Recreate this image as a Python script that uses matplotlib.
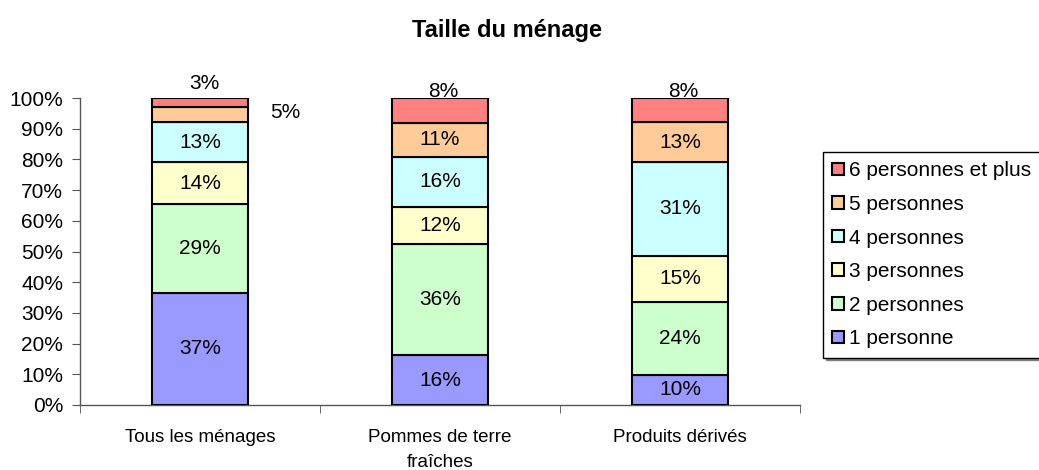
import matplotlib
matplotlib.use("Agg")
import matplotlib.pyplot as plt
import numpy as np

plt.rcParams['font.family'] = ['Liberation Sans', 'DejaVu Sans']

categories = ["Tous les ménages", "Pommes de terre\nfraîches", "Produits dérivés"]
series_names = ["1 personne", "2 personnes", "3 personnes", "4 personnes",
                "5 personnes", "6 personnes et plus"]
values = {
    "1 personne":          [37, 16, 10],
    "2 personnes":         [29, 36, 24],
    "3 personnes":         [14, 12, 15],
    "4 personnes":         [13, 16, 31],
    "5 personnes":         [5, 11, 13],
    "6 personnes et plus": [3, 8, 8],
}
colors = ["#9999FF", "#CCFFCC", "#FFFFCC", "#CCFFFF", "#FFCC99", "#FF8080"]
title = "Taille du ménage"

W, H = 1039, 470
fig = plt.figure(figsize=(W / 100, H / 100), dpi=100)
ax = fig.add_axes([80 / W, 1 - 405 / H, 720 / W, 307 / H])

x = np.arange(len(categories))
raw = np.array([values[s] for s in series_names], dtype=float)
totals = raw.sum(axis=0)
norm = raw / totals * 100
bottom = np.zeros(len(categories))
FS = 15
handles = []
for i, s in enumerate(series_names):
    b = ax.bar(x, norm[i], 0.4, bottom=bottom, color=colors[i],
               edgecolor="black", linewidth=1.5, label=s, zorder=3)
    handles.append(b)
    for j in range(len(categories)):
        v = raw[i, j]
        yc = bottom[j] + norm[i, j] / 2
        xc = x[j]
        if s == "6 personnes et plus":
            if j == 0:
                yc, xc = 104.6, x[j] + 0.02
            else:
                yc, xc = 102.2, x[j] + 0.012
        elif s == "5 personnes" and j == 0:
            yc, xc = 95.4, x[j] + 0.354
        ax.text(xc, yc, f"{int(v)}%", ha="center", va="center",
                fontsize=FS, zorder=5, clip_on=False)
    bottom += norm[i]

ax.set_xlim(-0.5, 2.5)
ax.set_ylim(0, 100)
ax.set_yticks(np.arange(0, 101, 10))
ax.set_yticklabels([f"{t}%" for t in range(0, 101, 10)], fontsize=FS)
ax.set_xticks(x)
ax.set_xticklabels(categories, fontsize=13.5, linespacing=1.65)
ax.tick_params(axis='x', length=0, pad=17)
ax.set_xticks([-0.5, 0.5, 1.5, 2.5], minor=True)
ax.tick_params(axis='x', which='minor', length=6, direction='out', color='#555555')
ax.tick_params(axis='y', length=6, direction='out', color='#555555', pad=6)
for sp in ['top', 'right']:
    ax.spines[sp].set_visible(False)
for sp in ['left', 'bottom']:
    ax.spines[sp].set_color('#555555')
    ax.spines[sp].set_linewidth(1.0)

fig.text(0.5 - 12 / W, 1 - 30 / H, title, ha="center", va="center",
         fontsize=17, fontweight="bold")

leg = ax.legend(handles[::-1], series_names[::-1], loc="upper left",
                bbox_to_anchor=(823 / W, 1 - 152 / H),
                bbox_transform=fig.transFigure, fontsize=FS,
                frameon=True, fancybox=False, edgecolor="black",
                shadow={'color': '#808080', 'alpha': 1},
                handlelength=0.55, handleheight=0.55, handletextpad=0.25,
                labelspacing=0.7, borderpad=0.45, borderaxespad=0)
leg.get_frame().set_linewidth(1.0)

fig.savefig("out.png", dpi=100)
